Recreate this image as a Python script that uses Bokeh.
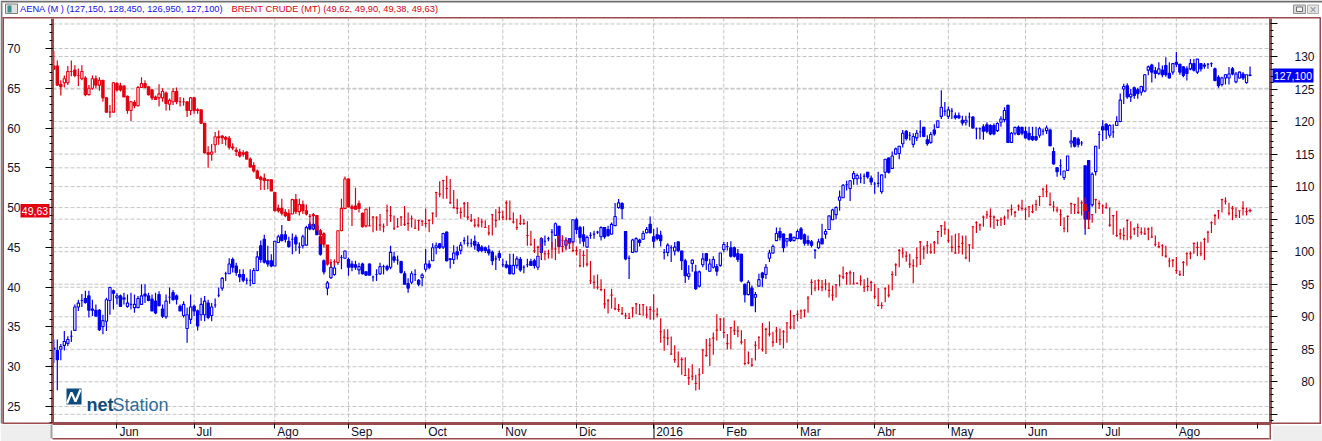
from bokeh.plotting import figure
from bokeh.embed import file_html
from bokeh.resources import INLINE
from bokeh.models import (Range1d, LinearAxis, FixedTicker, BoxAnnotation, Label,
                          ColumnDataSource)

# ---- data: (open, high, low, close); three values = (high, low, close) with open == close
brent_may15 = [(67.8,69.7,67.4,67.4),(67.8,68.5,65.3,65.4),(65.5,66.0,64.1,65.2),(65.7,66.6,65.1,66.2),(65.7,67.8,65.4,67.1),(67.1,68.5,66.5,67.1),(67.3,67.9,66.4,66.6),(66.6,67.5,65.3,66.6),(66.2,67.9,66.0,67.1),(66.3,66.5,64.0,64.2),(64.2,65.4,64.1,65.0),(65.0,66.6,64.8,66.2),(66.2,66.6,65.0,65.4),(65.4,66.4,64.7,66.0),(66.0,66.0,63.3,63.8),(63.8,63.9,62.0,62.0),(62.0,62.9,61.3,62.0),(62.0,65.8,62.0,65.7)]
brent_jun15 = [(65.6,65.8,64.6,64.8),(65.3,65.7,64.6,64.8),(65.3,65.3,63.9,63.9),(64.0,64.1,61.8,62.2),(62.2,63.4,60.9,63.3),(63.2,63.5,62.5,62.8),(62.8,65.3,62.7,65.1),(65.1,66.4,65.1,65.6),(65.6,66.0,65.0,65.1),(65.2,65.3,64.1,64.2),(64.8,64.8,63.5,63.8),(63.9,64.1,63.6,63.6),(63.8,65.5,62.7,64.3),(63.8,65.0,63.3,64.6),(64.4,64.6,62.2,63.1),(63.0,63.7,62.2,63.5),(63.3,65.0,62.9,64.6),(64.6,65.1,63.0,63.3),(63.3,63.9,62.7,63.3),(63.3,63.8,62.8,63.3),(63.3,63.3,61.4,62.2),(62.2,63.9,61.6,63.8)]
brent_jul15 = [(63.8,63.9,61.8,62.2),(62.3,62.5,61.8,62.2),(62.3,62.3,60.5,60.6),(60.6,60.6,56.8,56.9),(56.9,57.7,55.0,56.7),(56.7,58.0,55.9,57.0),(57.9,59.5,56.9,58.9),(58.9,59.7,57.9,58.8),(59.0,59.1,58.0,58.8),(58.8,59.0,57.8,58.6),(58.7,59.0,57.3,57.6),(57.6,58.1,57.2,57.5),(57.2,57.6,56.5,57.05),(57.0,57.4,56.3,56.5),(56.9,57.2,56.4,56.7),(57.0,57.1,56.1,56.1),(56.1,56.3,55.0,55.1),(55.3,55.7,54.4,54.6),(54.6,54.8,53.6,53.7),(53.8,54.0,52.2,53.5),(53.7,54.3,52.2,53.4),(53.5,53.5,52.3,53.4),(53.5,53.5,52.1,52.1)]
brent_ago15 = [(51.9,52.0,49.5,49.6),(49.9,50.4,49.4,49.6),(49.9,51.1,49.0,49.3),(49.4,49.8,48.8,49.0),(49.3,49.8,48.4,48.4),(49.2,51.1,49.2,51.0),(51.0,51.7,49.2,49.5),(49.5,51.1,49.0,50.4),(50.4,50.9,49.2,49.6),(49.6,50.4,49.0,49.2),(48.9,49.2,47.7,48.9),(49.1,49.3,47.5,49.0),(49.0,49.0,47.1,47.2),(47.1,47.3,45.4,46.6),(46.7,46.9,45.0,45.4),(45.3,45.3,42.7,42.9),(43.1,43.5,42.5,43.1),(43.2,43.5,42.7,43.2),(43.1,47.1,43.1,47.1),(47.1,51.1,47.1,49.9),(49.9,53.9,49.8,53.6)]
brent_sep15 = [(53.6,53.7,50.0,50.1),(50.1,50.4,47.7,49.9),(50.2,52.5,49.8,49.8),(50.5,50.9,49.4,49.9),(49.3,49.4,47.5,47.6),(47.7,49.9,47.5,49.8),(50.1,47.7,47.7),(48.9,46.9,48.8),(48.9,47.1,48.7),(49.2,47.1,47.8),(48.0,46.9,47.6),(50.4,47.7,49.6),(50.2,48.2,49.0),(49.0,47.2,47.4),(48.7,47.5,47.6),(48.9,47.7,48.8),(50.2,47.7,47.9),(49.4,47.1,48.0),(49.0,47.5,48.6),(48.5,47.3,47.4),(48.4,47.1,48.4),(48.4,47.7,48.3)]
brent_oct15 = [(49.9,47.5,48.0),(48.5,46.9,48.4),(49.4,47.9,49.3),(52.0,48.8,51.9),(53.3,51.3,51.7),(53.5,51.1,53.4),(54.0,51.1,52.4),(53.6,50.5,50.6),(52.2,49.9,50.0),(51.1,49.2,49.9),(50.0,48.6,49.4),(50.7,48.8,50.5),(50.7,48.4,48.8),(49.2,48.2,48.4),(48.6,47.5,47.8),(48.8,47.5,47.8),(48.6,47.5,48.2),(48.4,47.5,47.5),(47.8,46.5,46.8),(49.2,46.5,49.1),(49.8,47.5,48.4),(50.1,48.4,49.4)]
brent_nov15 = [(49.6,48.4,48.8),(50.9,48.4,50.6),(50.9,48.4,48.6),(49.4,48.0,48.2),(48.6,47.2,47.5),(49.1,47.8,48.0),(48.6,47.8,48.0),(48.3,45.2,46.5),(47.1,45.2,45.4),(46.1,44.3,44.6),(45.2,43.8,45.0),(46.3,43.6,45.3),(44.6,43.4,44.2),(44.7,43.6,44.2),(45.7,43.6,44.8),(46.1,43.4,44.8),(46.5,44.2,46.3),(46.5,44.4,45.9),(46.1,44.6,45.9),(46.1,44.8,45.5),(45.7,44.4,44.6)]
brent_dic15 = [(45.1,44.0,44.6),(44.8,42.5,42.7),(44.6,42.5,44.0),(44.8,42.6,42.9),(43.3,40.4,40.8),(41.5,39.8,40.6),(41.6,39.7,40.0),(41.0,39.5,39.7),(39.8,37.3,37.9),(38.5,36.7,38.3),(39.8,37.3,39.0),(38.7,37.1,37.3),(37.9,36.9,37.2),(37.5,36.5,36.7),(36.8,36.0,36.4),(36.8,36.0,36.1),(37.4,36.2,37.4),(38.0,36.6,37.9),(37.9,36.5,36.6),(37.9,36.4,37.8),(37.6,36.1,36.5),(37.6,35.9,37.2)]
brent_ene16 = [(39.1,35.9,37.0),(37.4,36.2,36.6),(36.1,33.0,34.4),(34.7,32.0,33.7),(34.7,32.7,33.6),(33.8,31.5,31.6),(32.7,30.5,30.9),(31.9,30.0,30.0),(31.2,29.0,30.9),(31.2,28.9,28.9),(29.8,27.7,28.6),(30.3,28.3,28.8),(29.0,27.0,27.9),(29.8,27.1,29.0),(32.2,29.1,32.1),(33.5,31.3,31.4),(33.6,30.1,32.7),(34.3,31.5,33.6),(36.6,33.3,34.6),(36.1,34.5,36.0)]
brent_feb16 = [(36.2,33.6,34.3),(34.1,32.2,32.9),(35.0,32.2,34.9),(35.8,34.0,34.6),(35.1,33.7,34.5),(34.6,32.8,33.1),(33.5,30.2,30.4),(31.9,30.3,30.5),(31.1,30.0,30.2),(33.2,30.8,32.7),(33.8,32.2,33.7),(35.5,31.9,32.2),(34.9,31.6,34.7),(35.7,33.8,34.1),(34.4,32.5,33.1),(35.0,33.0,34.5),(34.8,32.7,33.4),(34.6,32.3,34.4),(35.6,33.0,35.5),(37.1,34.7,35.0),(36.5,34.7,36.4)]
brent_mar16 = [(37.1,35.7,36.6),(37.2,36.0,37.0),(37.2,36.2,37.1),(38.9,36.8,38.6),(41.0,39.0,40.6),(40.9,39.5,39.9),(41.0,39.6,40.8),(40.9,39.5,40.0),(41.0,39.6,40.4),(40.6,38.7,39.6),(40.2,38.3,39.0),(40.4,38.7,40.3),(41.6,40.1,41.4),(42.6,41.0,41.3),(41.9,40.3,41.7),(42.1,40.3,41.8),(41.9,40.4,40.4),(40.6,40.4,40.5),(41.5,40.2,40.8),(41.0,39.4,40.0),(41.2,39.5,40.1),(40.8,39.5,40.6)]
brent_abr16 = [(40.4,38.5,38.8),(39.9,37.6,37.7),(38.1,37.3,37.7),(40.0,38.1,39.8),(40.3,38.7,39.0),(42.0,39.6,41.6),(43.0,41.4,42.8),(44.8,42.5,44.6),(45.0,43.7,44.3),(44.5,43.2,43.9),(44.2,42.4,42.9),(43.5,40.5,42.7),(45.0,42.5,43.7),(45.8,42.8,45.7),(45.2,43.5,44.8),(45.8,44.2,45.2),(45.5,44.2,44.4),(45.8,44.2,45.6),(47.1,45.4,47.0),(47.8,46.3,47.7),(48.3,46.6,47.3)]
brent_may16 = [(47.3,45.6,45.9),(46.5,44.4,45.0),(46.7,44.2,44.3),(46.8,44.2,45.1),(46.5,44.1,45.5),(46.5,43.5,43.7),(45.4,43.2,45.3),(47.7,44.8,47.6),(48.3,46.8,48.1),(48.0,47.1,47.8),(49.0,47.6,48.8),(49.6,48.6,49.1),(49.9,47.5,48.9),(49.0,47.3,48.8),(48.5,47.7,48.4),(48.8,47.7,48.5),(49.0,47.8,48.7),(49.8,48.6,49.6),(50.4,49.0,49.8),(49.6,48.8,49.4),(50.4,49.6,50.2),(51.0,49.6,49.9)]
brent_jun16 = [(50.0,48.4,49.8),(50.2,48.8,50.1),(50.4,49.3,49.5),(51.0,49.6,50.4),(51.5,50.2,51.4),(52.5,51.3,52.3),(52.9,51.3,52.0),(51.9,50.2,50.4),(50.8,49.5,50.1),(50.1,49.4,49.7),(49.8,47.7,49.1),(48.8,46.9,47.4),(49.0,46.9,48.9),(50.6,49.2,50.5),(50.5,49.2,50.4),(51.3,49.2,49.4),(50.9,49.0,50.6),(50.4,51.3,47.3,49.6),(49.5,47.3,47.4),(49.2,48.1,49.1),(51.1,49.3,51.0),(50.9,49.8,50.5)]
brent_jul16 = [(50.4,49.2,50.2),(50.6,49.9,50.0),(50.0,47.6,47.8),(49.0,46.6,49.0),(49.6,46.3,46.5),(47.3,46.0,46.7),(47.5,45.9,46.5),(48.5,45.9,48.4),(48.3,46.0,46.3),(47.5,46.6,47.3),(48.0,46.3,47.5),(47.5,46.6,46.9),(47.5,46.6,46.7),(47.5,45.9,47.3),(47.6,46.2,46.3),(46.5,45.1,45.4),(45.7,44.9,45.1),(45.4,43.9,45.2),(45.2,43.7,43.9),(43.7,42.5,43.3),(43.5,42.5,43.4)]
brent_ago16 = [(43.8,41.7,42.1),(42.1,41.4,41.6),(43.3,41.4,43.1),(44.4,42.7,44.2),(44.5,43.5,44.2),(45.6,44.2,45.5),(45.7,43.9,45.0),(45.7,43.9,44.2),(46.2,43.4,46.0),(47.1,45.6,46.9),(48.3,46.8,48.1),(49.2,47.8,49.0),(49.7,48.6,49.6),(51.1,49.4,51.0),(51.3,50.4,50.8),(50.6,49.0,49.3),(50.2,48.4,49.9),(50.0,48.7,49.0),(49.6,48.7,49.6),(50.8,49.0,49.9),(50.0,49.0,49.5),(49.62,49.9,49.38,49.63)]

aena_may15 = [(85.2,86.5,82.9,85.0),(84.8,86.5,78.7,83.4),(85.0,85.8,83.3,85.4),(85.6,87.8,84.8,86.2),(85.9,87.0,85.5,86.5),(87.9,86.1,87.0),(87.9,91.9,87.8,91.5),(91.5,92.6,90.9,92.1),(93.5,91.5,92.5),(92.8,94.0,92.0,92.2),(93.2,94.0,89.9,91.0),(91.2,92.6,90.1,91.0),(91.0,91.9,90.1,90.1),(91.0,91.2,87.8,88.0),(88.5,90.3,87.3,89.4),(89.3,92.9,87.8,92.6),(92.5,94.6,90.3,94.5),(94.0,94.2,91.1,93.6)]
aena_jun15 = [(92.9,93.6,91.9,93.2),(93.2,93.4,91.6,91.6),(92.7,93.7,91.9,92.9),(91.6,93.4,91.4,92.1),(93.7,91.1,91.9),(91.4,93.4,90.6,91.9),(91.4,93.2,91.4,92.8),(91.9,95.0,91.9,93.2),(93.5,95.0,92.1,93.2),(93.2,93.7,92.4,92.5),(92.7,93.4,90.9,90.9),(92.4,93.7,90.4,90.6),(93.4,93.9,91.6,91.7),(91.2,91.9,89.8,90.1),(90.0,93.4,89.7,92.4),(94.5,92.0,93.0),(93.7,94.1,92.5,92.6),(93.2,93.4,91.9,92.7),(91.6,91.9,90.9,90.9),(90.2,92.4,89.9,91.9),(88.2,91.4,86.0,90.3),(89.6,93.4,88.9,91.5)]
aena_jul15 = [(91.6,91.9,90.1,90.9),(90.9,91.1,87.9,88.6),(90.3,92.9,89.4,91.9),(90.3,93.2,89.3,92.4),(92.1,92.6,89.6,89.9),(90.2,92.1,89.3,91.5),(92.8,91.4,91.8),(94.5,93.0,93.3),(94.4,96.1,94.0,95.9),(96.9,95.5,96.6),(96.6,99.0,96.6,98.1),(98.8,99.1,96.8,97.6),(97.8,98.3,96.3,96.8),(96.5,97.3,95.3,96.1),(96.5,97.3,95.3,95.6),(96.0,95.0,95.6),(97.3,94.7,95.6),(95.1,97.5,95.1,97.1),(97.1,100.1,97.0,99.2),(100.9,101.7,98.3,98.8),(101.9,102.6,98.2,98.4),(98.6,100.9,97.7,98.1),(98.6,99.6,97.6,97.8)]
aena_ago15 = [(97.8,101.6,97.8,101.6),(101.4,102.6,101.4,102.3),(102.6,104.1,101.6,101.7),(102.6,103.2,101.4,101.9),(101.6,102.3,100.6,100.8),(102.8,99.6,101.9),(102.2,102.6,100.1,101.2),(101.4,99.7,100.7),(100.9,102.6,100.5,102.3),(101.0,104.0,101.0,103.7),(104.2,104.6,103.3,103.5),(103.5,105.9,103.3,104.2),(104.0,104.2,102.6,102.6),(102.3,102.6,99.4,99.6),(98.6,98.8,96.5,96.9),(94.4,95.5,93.3,95.2),(96.0,98.3,95.8,97.6),(96.5,98.6,96.3,97.5),(99.5,98.0,98.5),(99.5,97.3,99.1),(99.0,100.2,98.9,100.1)]
aena_sep15 = [(98.8,99.1,96.3,97.6),(98.1,98.6,97.0,97.6),(98.0,98.6,97.2,97.6),(97.2,98.3,96.5,97.7),(98.1,98.3,96.5,96.6),(96.9,97.0,96.3,96.4),(98.1,98.2,96.4,96.4),(96.3,95.4,96.1),(97.3,95.5,96.5),(96.6,98.3,96.4,97.7),(98.0,96.5,97.7),(97.7,98.0,97.0,97.3),(97.6,100.9,97.3,99.9),(99.2,100.0,98.3,98.7),(99.4,98.0,98.7),(98.5,98.6,96.6,96.8),(96.6,97.0,95.0,95.0),(95.1,95.9,93.7,94.4),(95.3,97.0,95.0,96.6),(97.3,95.5,96.5),(95.6,95.8,94.7,95.0),(96.0,96.7,94.7,96.4)]
aena_oct15 = [(97.3,100.4,96.9,98.1),(98.1,98.7,97.3,97.6),(98.6,101.3,98.6,100.6),(100.6,101.4,99.6,100.9),(101.2,101.3,100.4,100.6),(100.7,102.9,100.4,102.8),(103.0,103.1,98.5,98.6),(98.9,99.0,97.4,98.8),(98.8,101.0,98.1,99.8),(100.0,100.8,98.8,99.5),(100.2,101.5,99.6,101.0),(102.2,101.1,101.7),(102.5,100.8,101.3),(102.0,100.7,101.3),(101.6,102.5,100.3,101.0),(101.1,101.5,99.9,100.2),(100.7,101.0,99.9,100.2),(100.6,100.8,99.8,100.2),(100.3,101.0,99.4,99.8),(99.9,100.2,97.9,98.6),(99.4,97.2,98.9),(99.7,100.2,98.6,99.1)]
aena_nov15 = [(98.9,97.6,98.0),(98.0,98.6,97.4,97.6),(97.9,99.7,96.5,96.6),(96.6,99.7,96.5,97.9),(97.9,99.3,97.4,98.9),(98.8,99.2,96.9,97.2),(97.9,96.7,97.6),(98.9,97.6,98.0),(98.5,98.9,97.9,97.9),(98.6,98.9,97.4,97.9),(97.6,99.3,97.2,99.3),(99.9,102.2,98.7,102.0),(102.5,100.9,101.6),(102.3,101.6,102.0),(103.5,100.6,103.0),(102.5,104.5,102.5,104.3),(103.9,104.0,100.8,100.8),(102.5,99.9,100.8),(101.0,102.2,100.4,101.7),(102.0,102.0,100.4,101.4),(101.5,104.9,101.3,104.9)]
aena_dic15 = [(104.9,105.2,102.7,103.4),(103.7,104.0,101.2,102.2),(102.6,103.9,100.8,101.6),(100.7,102.5,100.6,102.2),(103.0,102.0,102.5),(103.2,102.0,102.7),(103.2,102.7,103.0),(102.3,103.9,101.7,103.7),(103.7,103.8,102.0,102.3),(103.4,104.0,102.3,102.5),(102.7,104.5,102.7,104.2),(104.0,107.5,104.0,105.4),(106.8,108.1,106.6,107.5),(107.4,107.6,105.0,106.6),(103.1,103.1,98.7,98.9),(99.4,95.8,99.0),(99.9,102.0,99.9,101.8),(100.0,102.2,99.9,102.0),(101.8,102.0,100.8,101.4),(101.9,103.2,101.8,102.8),(102.9,103.8,102.8,103.4),(104.2,105.4,102.8,102.9)]
aena_ene16 = [(102.3,103.5,100.6,101.6),(102.6,103.7,101.7,102.0),(102.5,103.2,100.8,101.7),(100.4,98.8,99.9),(99.9,101.3,99.3,101.0),(101.0,98.4,100.6),(100.1,101.5,99.4,100.7),(101.5,101.6,99.9,100.2),(100.1,100.2,97.2,98.6),(98.6,98.9,95.2,96.3),(96.2,97.9,95.7,96.6),(98.2,98.8,96.9,98.7),(96.9,98.0,94.1,94.3),(94.7,97.1,94.5,96.9),(98.0,99.8,97.6,98.9),(99.7,99.8,97.2,98.6),(97.0,98.9,96.9,98.1),(97.6,99.3,97.4,98.8),(97.7,98.1,96.3,97.0),(97.9,99.8,97.7,99.8)]
aena_feb16 = [(100.3,101.5,99.9,101.1),(101.5,100.2,100.8),(100.6,101.6,99.1,99.3),(100.6,100.8,99.1,99.3),(99.7,100.4,98.4,98.8),(99.6,99.7,95.3,95.5),(95.0,95.1,92.2,93.4),(93.4,95.6,93.3,95.3),(94.4,94.8,91.7,91.7),(93.0,93.8,90.7,93.4),(94.7,96.6,94.7,95.7),(96.7,96.9,94.6,96.0),(96.5,98.1,95.8,97.6),(99.0,100.3,98.4,99.8),(99.8,101.1,99.7,100.8),(101.7,103.7,101.7,102.8),(103.1,103.7,101.7,102.2),(102.7,102.8,99.9,100.6),(101.6,102.0,100.8,102.0),(102.7,102.8,101.5,101.7),(101.7,102.3,101.6,102.2)]
aena_mar16 = [(102.0,103.4,102.0,103.1),(103.5,103.8,101.8,102.0),(102.6,102.8,100.9,101.3),(101.7,102.5,100.9,101.3),(101.5,101.8,100.7,101.0),(100.4,98.9,100.2),(100.6,102.0,100.4,101.5),(102.0,104.3,101.2,101.2),(102.7,103.5,102.0,103.1),(103.4,105.5,103.4,105.5),(104.9,106.6,104.9,106.4),(105.7,107.0,105.0,106.8),(107.9,109.4,106.3,108.4),(108.3,110.4,108.3,110.2),(110.9,109.4,110.3),(109.7,111.0,107.8,110.9),(111.2,112.4,110.3,112.0),(111.2,112.0,110.3,111.7),(112.0,110.5,111.3),(112.0,110.4,111.6),(112.2,112.3,111.2,111.5),(111.3,111.7,110.2,110.7)]
aena_abr16 = [(110.7,108.9,110.4),(112.3,109.9,110.5),(109.2,111.8,108.9,111.8),(112.2,114.2,111.3,114.2),(114.4,114.5,112.0,112.2),(112.8,115.4,112.8,114.7),(115.0,116.0,115.0,115.8),(115.1,116.3,114.2,116.2),(116.6,118.7,116.0,118.2),(118.5,118.7,117.1,117.4),(118.4,117.1,117.9),(116.5,118.2,116.0,117.7),(117.5,118.7,117.0,118.2),(120.2,117.6,118.4),(119.1,119.2,117.6,117.7),(117.2,117.9,116.3,116.6),(116.8,118.4,116.6,118.0),(118.7,119.6,117.8,118.1),(119.1,120.1,119.1,120.1),(120.8,124.8,120.4,122.2),(123.0,120.9,121.6)]
aena_may16 = [(120.8,122.3,120.4,121.8),(122.1,120.4,121.6),(120.9,121.4,120.3,120.6),(120.9,121.4,120.4,120.6),(120.2,120.9,119.4,119.8),(119.9,120.9,119.4,120.2),(121.4,119.2,120.7),(120.7,120.8,118.9,119.0),(119.1,117.3,118.9),(119.1,117.3,118.9),(119.2,119.6,117.2,118.5),(119.5,119.9,118.2,118.5),(119.4,119.6,117.9,118.1),(119.4,119.7,117.9,118.1),(118.6,119.9,118.4,119.7),(119.9,120.8,119.2,120.4),(120.3,122.2,119.9,121.7),(122.5,122.6,116.8,116.8),(116.8,118.4,116.7,118.2),(118.2,119.2,117.9,119.1),(119.1,119.4,117.9,118.0),(119.1,119.2,117.9,118.2)]
aena_jun16 = [(118.5,119.2,117.4,117.5),(118.2,119.2,117.1,117.3),(117.7,119.2,117.0,117.2),(117.7,119.2,117.0,117.2),(117.9,119.2,117.5,118.9),(118.9,117.9,118.5),(118.6,119.4,118.1,119.0),(118.7,118.9,116.2,116.3),(115.4,116.0,113.4,113.5),(112.9,113.0,111.5,112.3),(114.2,111.7,113.2),(111.4,112.4,111.0,112.4),(112.5,114.7,112.4,114.7),(116.7,118.7,116.0,117.0),(117.5,117.6,116.0,116.2),(117.3,117.6,116.0,116.5),(117.0,116.3,116.7),(113.2,113.2,102.6,105.0),(114.0,114.0,105.0,105.0),(107.2,112.2,106.9,111.9),(112.3,116.3,111.7,116.2),(118.5,115.8,118.0)]
aena_jul16 = [(119.2,120.2,117.0,118.7),(119.6,119.7,117.3,118.7),(117.9,119.6,117.5,119.4),(119.6,117.5,118.4),(119.4,120.8,119.4,120.0),(120.0,124.3,119.9,123.3),(125.0,125.8,122.7,125.4),(125.5,125.9,123.5,123.8),(123.8,125.0,123.0,124.2),(125.2,125.4,123.5,124.0),(124.9,125.2,123.5,124.3),(124.5,125.5,124.0,125.4),(124.7,127.3,124.5,127.2),(127.9,128.6,127.1,128.4),(128.7,128.9,126.0,127.6),(127.8,128.4,126.6,127.4),(127.4,129.1,127.1,128.1),(127.9,128.6,126.8,127.2),(128.6,129.9,126.9,127.2),(127.4,129.1,126.6,126.7),(127.6,129.0,127.2,128.9)]
aena_ago16 = [(129.1,130.7,128.4,128.8),(128.8,128.9,127.2,127.6),(128.4,128.5,126.8,127.1),(128.1,128.5,126.3,127.4),(128.1,129.6,127.9,128.9),(128.9,129.6,127.7,127.9),(127.6,129.6,127.3,129.6),(128.9,129.0,127.7,128.1),(128.7,129.0,128.1,128.5),(129.0,128.1,128.8),(129.1,128.4,128.9),(128.1,128.3,126.2,126.3),(126.8,127.1,125.2,125.5),(125.7,126.9,125.4,126.7),(126.7,127.3,125.7,127.2),(126.7,128.4,125.7,127.3),(128.1,128.4,127.1,127.3),(126.1,127.6,125.9,127.3),(126.7,127.7,126.6,127.6),(127.3,127.6,126.4,126.7),(126.0,127.2,125.8,127.2),(127.15,128.45,126.95,127.1)]

month_ticks = [18, 40, 63, 84, 106, 128, 149, 171, 191, 212, 234, 255, 277, 299, 320, 343]
month_labels = ["Jun", "Jul", "Ago", "Sep", "Oct", "Nov", "Dic", "2016", "Feb", "Mar", "Abr", "May", "Jun", "Jul", "Ago", ""]
left_ticks = [25, 30, 35, 40, 45, 50, 55, 60, 65, 70]
right_ticks = [75, 80, 85, 90, 95, 100, 105, 110, 115, 120, 125, 130, 135]
right_labels = [80, 85, 90, 95, 100, 105, 110, 115, 120, 125, 130]

BLUE = "#0000F0"
RED = "#E2000F"
BROWN = "#9A4B4E"
GRID = "#C4C4C4"
FONT = "Liberation Sans"

# pixel helpers for the window chrome (not for data)
def X(px): return (px - 53.3) / 3.508
def Y(py): return 70 - (py - 48) / 7.956
def YR(py): return 130 - (py - 56) / 6.506

# the frame covers the whole window so that its chrome can be drawn; the chart's axes are fixed inside it
p = figure(width=1322, height=441, output_backend="svg", toolbar_location=None,
           x_range=Range1d(X(0), X(1322)), y_range=Range1d(Y(441), Y(0)),
           x_axis_type=None, y_axis_type=None,
           min_border=0, border_fill_color="white", background_fill_color="white",
           outline_line_color=None)
p.extra_y_ranges = {"right": Range1d(YR(441), YR(0))}

# axes
left = LinearAxis(ticker=FixedTicker(ticks=left_ticks, minor_ticks=list(range(23, 74))),
                  fixed_location=X(52), bounds=(Y(423), Y(18)))
right = LinearAxis(y_range_name="right", fixed_location=X(1270), bounds=(YR(423), YR(18)),
                   ticker=FixedTicker(ticks=right_ticks, minor_ticks=list(range(74, 136))))
bottom = LinearAxis(ticker=FixedTicker(ticks=month_ticks), fixed_location=Y(423), bounds=(X(52), X(1270)))
p.add_layout(left, "left")
p.add_layout(right, "right")
p.add_layout(bottom, "below")
for a in (left, right, bottom):
    a.axis_line_color = BROWN
    a.axis_line_width = 3
    a.major_tick_line_color = "black"
    a.minor_tick_line_color = "black"
    a.major_tick_in = 0
    a.minor_tick_in = 0
    a.major_tick_out = 7
    a.minor_tick_out = 3
    a.major_label_text_font = FONT
    a.major_label_text_font_size = "12px"
    a.major_label_text_color = "#101030"
left.major_label_standoff = 25
right.major_label_text_font_size = "1px"
right.major_label_text_color = "white"
bottom.major_label_text_font_size = "1px"
bottom.major_label_text_color = "white"
bottom.major_tick_out = 5
bottom.minor_tick_line_color = None

# grids, limited to the chart area
grid_kw = dict(line_color=GRID, line_dash="4 2", line_width=1)
vx = month_ticks[:-1]
p.segment(vx, [Y(423)] * len(vx), vx, [Y(18)] * len(vx), **grid_kw)
p.segment([X(52)] * len(left_ticks), left_ticks, [X(1270)] * len(left_ticks), left_ticks, **grid_kw)
p.segment([X(52)] * len(right_ticks), right_ticks, [X(1270)] * len(right_ticks), right_ticks,
          y_range_name="right", **grid_kw)

def draw(rows, color, range_name):
    xs, o, h, l, c = [], [], [], [], []
    for i, t in enumerate(rows):
        a, b, d, e = t if len(t) == 4 else (t[2], t[0], t[1], t[2])
        xs.append(i); o.append(a); h.append(b); l.append(d); c.append(e)
    top = [max(a, e) for a, e in zip(o, c)]
    bot = [min(a, e) for a, e in zip(o, c)]
    fill = ["white" if e > a else color for a, e in zip(o, c)]
    src = ColumnDataSource(dict(x=xs, h=h, l=l, top=top, bot=bot, fill=fill))
    kw = {"y_range_name": range_name} if range_name else {}
    p.segment("x", "h", "x", "l", source=src, line_color=color, line_width=1.2, **kw)
    p.vbar("x", width=0.66, top="top", bottom="bot", source=src, fill_color="fill",
           line_color=color, line_width=1.1, **kw)

aena = (aena_may15 + aena_jun15 + aena_jul15 + aena_ago15 + aena_sep15 + aena_oct15 + aena_nov15 +
        aena_dic15 + aena_ene16 + aena_feb16 + aena_mar16 + aena_abr16 + aena_may16 + aena_jun16 +
        aena_jul16 + aena_ago16)
brent = (brent_may15 + brent_jun15 + brent_jul15 + brent_ago15 + brent_sep15 + brent_oct15 + brent_nov15 +
         brent_dic15 + brent_ene16 + brent_feb16 + brent_mar16 + brent_abr16 + brent_may16 + brent_jun16 +
         brent_jul16 + brent_ago16)
draw(aena, BLUE, "right")
draw(brent, RED, None)

def rect(x0, y0, x1, y1, color, line=None):
    p.add_layout(BoxAnnotation(left=X(x0), right=X(x1), top=Y(y0), bottom=Y(y1),
                               fill_color=color, fill_alpha=1, line_color=line, line_alpha=1 if line else 0,
                               level="annotation"))

def text(px, py, s, color="#101030", size="12px", align="left", base="middle", style="normal"):
    p.add_layout(Label(x=X(px), y=Y(py), text=s, text_color=color, text_font=FONT,
                       text_font_size=size, text_align=align, text_baseline=base,
                       text_font_style=style, level="annotation"))

# window chrome
rect(0, 0, 1322, 2, "#6E6E6E")
rect(0, 2, 2, 423, "#808080")
rect(2, 17, 3.5, 423, BROWN)
rect(2, 16.5, 1320, 18, BROWN)
rect(0, 424, 50, 441, "#EEEEEE")
rect(2, 422, 52, 423.5, BROWN)
rect(50, 424, 52, 438, "#A0A0A0")
rect(52, 437.5, 1269, 439, BROWN)
rect(1269, 423, 1270.5, 439, BROWN)
rect(1270, 422, 1320.5, 423.5, BROWN)
rect(1319, 17, 1320.5, 423, BROWN)
rect(1272, 425, 1322, 441, "#EEEEEE")
rect(653, 424, 654, 438, "black")

# title icon and window buttons
rect(5, 3.5, 17, 13, "#E0E0E0", "#808080")
rect(7, 5, 11, 12, "#3F8F8F")
rect(1293, 4.5, 1305, 13, "#D8D8D8", "#909090")
rect(1296, 6.5, 1302, 11, "#F4F4F4", "#707070")
rect(1307, 4.5, 1318, 13, "#E4E4E4", "#B0B0B0")
text(1312.5, 9, "×", color="#909090", size="12px", align="center")

text(19.5, 8.5, "AENA (M ) (127,150, 128,450, 126,950, 127,100)", color="#1010F0", size="9.3px")
text(231, 8.5, "BRENT CRUDE (MT) (49,62, 49,90, 49,38, 49,63)", color="#E00010", size="9.3px")

# month labels
for t, s in zip(month_ticks, month_labels):
    if s:
        p.add_layout(Label(x=t, y=Y(431), text=s, x_offset=2.5, text_color="#101030", text_font=FONT,
                           text_font_size="12px", text_baseline="middle", level="annotation"))
# right axis labels
for v in right_labels:
    p.add_layout(Label(x=X(1314), y=v, y_range_name="right", text=str(v), text_color="#101030",
                       text_font=FONT, text_font_size="12px", text_align="right",
                       text_baseline="middle", level="annotation"))

# last value tags
rect(20, 203.5, 49, 217, "#E2000F")
text(34.5, 210.5, "49,63", color="white", size="10.5px", align="center")
rect(1272, 68, 1313, 82, "#0000F0")
text(1292.5, 75, "127,100", color="white", size="10.5px", align="center")

# logo
rect(66, 388, 81, 404, "#0D4A7E")
p.line([X(66.5), X(71), X(75), X(80)], [Y(403), Y(392), Y(401), Y(389)], line_color="white", line_width=2.2, level="overlay")
text(86, 404, "net", color="#0F4A7C", size="18px", base="alphabetic", style="bold")
text(112, 404, "Station", color="#2F6D99", size="18px", base="alphabetic")

open("out.html", "w").write(file_html(p, INLINE))
